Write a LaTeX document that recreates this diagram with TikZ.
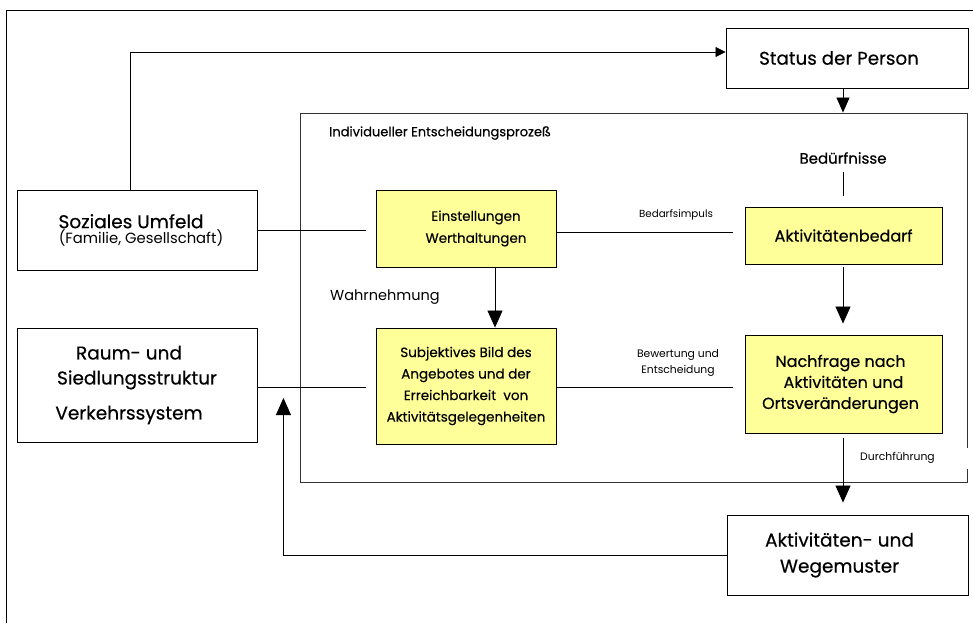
\documentclass[tikz,border=0pt]{standalone}
\usepackage{fontspec}
\setmainfont{Poppins}
\newfontfamily\medfont{Poppins}[FakeBold=0.4]
\usetikzlibrary{arrows.meta,calc}
\definecolor{ylw}{HTML}{FFFF99}
\definecolor{frame}{HTML}{333333}
\newcommand{\fs}[2]{\fontsize{#1}{#2}\selectfont}
\newcommand{\rpad}[1]{\hspace*{#1}}
\begin{document}
\begin{tikzpicture}[x=1pt,y=-1pt,
  box/.style={draw=black, line width=0.9pt, align=center, inner sep=0pt, fill=white},
  ybox/.style={box, fill=ylw},
  small/.style={font=\fs{10.8}{16}, inner sep=0pt},
  ln/.style={line width=0.8pt},
  arrL/.style={ln, -{Triangle[length=17pt,width=15pt]}},
  arrM/.style={ln, -{Triangle[length=15pt,width=13pt]}},
  arrS/.style={ln, -{Triangle[length=10pt,width=10pt]}},
]
\useasboundingbox (0,0) rectangle (973,623);
\fill[white] (0,0) rectangle (973,623);
% outer frame
\draw[line width=0.9pt] (6,623) -- (6,10) -- (973,10);

% big process box
\node[box, draw=frame, minimum width=667pt, minimum height=369pt] (proc) at (633.5,297.5) {};

% boxes
\node[box, font=\medfont\fs{18.3}{22}, minimum width=242pt, minimum height=60pt] (status) at (847,58) {Status der Person\rpad{16pt}};
\node[box, minimum width=240pt, minimum height=80pt] (soz) at (137,230)
  {{\medfont\fs{18.5}{22}Soziales Umfeld\rpad{12pt}}\\[0pt]{\fs{14.8}{18}\hspace*{8pt}(Familie, Gesellschaft)}};
\node[box, font=\medfont\fs{18.5}{25}, minimum width=240pt, minimum height=114pt] (raum) at (137,385)
  {Raum- und\rpad{16pt}\\Siedlungsstruktur\rpad{16pt}\\[10pt]Verkehrssystem\rpad{16pt}};
\node[ybox, font=\medfont\fs{13.5}{22}, minimum width=180pt, minimum height=77pt] (einst) at (466,228.5)
  {\rpad{20pt}Einstellungen\\\rpad{20pt}Werthaltungen};
\node[ybox, font=\medfont\fs{13.5}{21.5}, minimum width=180pt, minimum height=116pt] (subj) at (466,386)
  {Subjektives Bild des\\Angebotes und der\\Erreichbarkeit~~von\\Aktivitätsgelegenheiten};
\node[ybox, font=\medfont\fs{16}{21}, minimum width=197pt, minimum height=57pt] (bedarf) at (843.5,235.5)
  {Aktivitätenbedarf};
\node[ybox, font=\medfont\fs{16}{21}, minimum width=197pt, minimum height=98pt] (nach) at (843.5,384)
  {Nachfrage nach\rpad{6pt}\\Aktivitäten und\rpad{6pt}\\Ortsveränderungen\rpad{6pt}};
\node[box, font=\medfont\fs{18.5}{26}, minimum width=241pt, minimum height=80pt] (aktiv) at (847.5,555)
  {Aktivitäten- und\rpad{16pt}\\Wegemuster\rpad{16pt}};

% labels
\node[anchor=west, inner sep=0pt, font=\medfont\fs{13}{16}] (title) at (329,133) {Individueller Entscheidungsprozeß};
\node[inner sep=0pt, font=\medfont\fs{15}{18}] (bed) at (843,158) {Bedürfnisse};
\node[anchor=west, inner sep=0pt, font=\fs{14.5}{18}] (wahr) at (330,297) {Wahrnehmung};
\node[small, font=\fs{10.3}{15}] (bi) at (676,215) {Bedarfsimpuls};
\node[small, align=center] (bew) at (678,363) {Bewertung und\\Entscheidung};
\node[small, fill=white, anchor=west, minimum width=116pt, minimum height=21pt, text width=108pt, align=left, inner xsep=4pt] (durch) at (856,458) {Durchführung};

% connectors
\draw[arrS] ($(soz.north)+(-7,0)$) |- ($(status.west)+(0,-6)$);
\draw[arrM] (status.south -| bed.center) -- (proc.north -| bed.center);
\draw[ln] ($(bed.south)+(0,8)$) -- ($(bedarf.north -| bed.center)+(0,-11)$);
\draw[ln] (soz.east) -- ($(soz.east -| einst.west)+(-10,0)$);
\draw[ln] ($(einst.east)+(0,3.5)$) -- ($(einst.east -| bedarf.west)+(-12,3.5)$);
\draw[ln] ($(raum.east)+(0,2)$) -- ($(raum.east -| subj.west)+(-10,2)$);
\draw[ln] ($(subj.east)+(0,1)$) -- ($(subj.east -| nach.west)+(-12,1)$);
\draw[arrL] ($(einst.south)+(29,0)$) -- ($(subj.north)+(29,0)$);
\draw[arrL] ($(bedarf.south -| bed.center)+(0,3)$) -- ($(nach.north -| bed.center)+(0,-11)$);
\draw[arrL] ($(nach.south -| bed.center)+(0,5)$) -- ($(aktiv.north -| bed.center)+(0,-12)$);
\draw[arrL] (aktiv.west) -| ($(raum.east)+(26,13)$);
\end{tikzpicture}
\end{document}
